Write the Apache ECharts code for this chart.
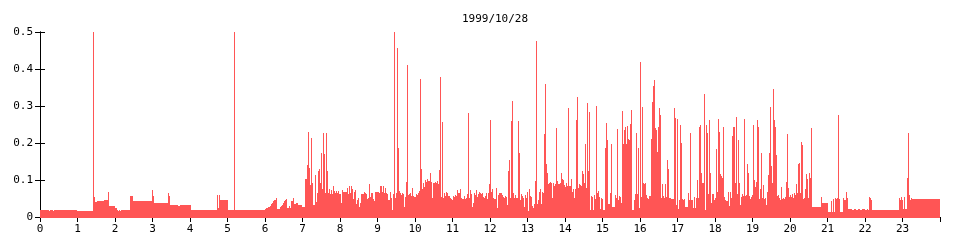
<!DOCTYPE html>
<html><head><meta charset="utf-8">
<script src="https://cdn.jsdelivr.net/npm/echarts@6/dist/echarts.min.js"></script>
<style>html,body{margin:0;padding:0;background:#fff}#c{width:960px;height:240px}</style>
</head><body><div id="c"></div>
<script>
// Chart title
const chartTitle = '1999/10/28';
// Samples are taken every 96 s -> 37.5 samples per hour.
const samplesPerHour = 37.5;
const hourLabels = ['0','1','2','3','4','5','6','7','8','9','10','11','12','13','14','15','16','17','18','19','20','21','22','23'];
const yTickLabels = ['0','0.1','0.2','0.3','0.4','0.5'];

// [sample index, value] — value holds until the next listed sample
const night = [[0,.020],[9,.017],[10,.020],[13,.017],[14,.020],[25,.018],[26,.020],[30,.018],[31,.020],[37,.017],[53,.500],[54,.055],[55,.040],[57,.044],[64,.046],[68,.068],[69,.031],[71,.029],[75,.025],[77,.020],[78,.017],[79,.020],[80,.017],[81,.020],[90,.058],[93,.042],[112,.074],[113,.058],[114,.037],[117,.039],[122,.037],[124,.039],[128,.064],[129,.056],[130,.033],[138,.031],[140,.033],[151,.020],[177,.060],[178,.025],[179,.060],[180,.047],[188,.020],[194,.500],[195,.020],[225,.022],[226,.024],[228,.028],[230,.031],[231,.034],[232,.037],[233,.042],[234,.045],[235,.047],[236,.051],[237,.022],[240,.026],[241,.029],[242,.033],[243,.038],[244,.043],[245,.046],[246,.050],[247,.025],[249,.030],[250,.025],[251,.043],[253,.052],[254,.034],[256,.039],[258,.032],[262,.028]];

const morning = [[265,.104],[267,.140],[268,.230],[269,.133],[270,.086],[271,.214],[272,.091],[273,.032],[275,.113],[276,.041],[277,.066],[278,.123],[279,.131],[280,.091],[281,.174],[282,.077],[283,.228],[284,.169],[285,.066],[286,.228],[287,.124],[288,.066],[289,.077],[290,.061],[291,.073],[292,.061],[293,.084],[294,.070],[295,.064],[296,.070],[297,.064],[298,.070],[299,.063],[301,.037],[302,.074],[303,.068],[307,.079],[308,.063],[309,.084],[310,.066],[311,.084],[312,.075],[313,.050],[314,.068],[315,.072],[316,.034],[317,.046],[318,.052],[319,.028],[320,.037],[321,.063],[322,.061],[324,.068],[325,.064],[326,.061],[327,.050],[328,.052],[329,.090],[330,.055],[331,.066],[332,.064],[333,.050],[334,.043],[335,.068],[339,.066],
[340,.084],[342,.068],[343,.084],[344,.064],[345,.079],[346,.064],[347,.061],[348,.045],[350,.068],[351,.052],[352,.018],[353,.061],[354,.500],[355,.052],[356,.064],[357,.458],[358,.187],[359,.070],[360,.066],[361,.059],[362,.064],[363,.061],[364,.028],[365,.055],[366,.095],[367,.410],[368,.059],[369,.061],[370,.066],[371,.057],[372,.079],[373,.057],[374,.055],[376,.061],[377,.059],[378,.064],[379,.070],[380,.374],[381,.131],[382,.075],[383,.093],[384,.082],[385,.100],[386,.095],[387,.104],[388,.097],[390,.120],[391,.095],[392,.052],[393,.091],[395,.095],[396,.091],[397,.097],[398,.088],[399,.127]];

const midday = [[400,.379],[401,.054],[402,.258],[403,.052],[404,.064],[405,.057],[406,.068],[407,.064],[408,.057],[410,.052],[411,.048],[412,.045],[413,.057],[414,.055],[415,.059],[416,.057],[417,.072],[418,.066],[419,.064],[420,.077],[421,.052],[422,.048],[424,.057],[425,.048],[426,.052],[427,.061],[428,.282],[429,.052],[430,.073],[431,.061],[432,.028],[433,.039],[434,.066],[435,.059],[436,.072],[437,.055],[438,.063],[439,.068],[440,.064],[441,.061],[442,.066],[443,.055],[444,.052],[445,.057],[446,.064],[447,.050],[448,.066],[449,.088],[450,.261],[451,.068],[452,.075],[453,.052],[454,.050],[455,.048],[456,.079],[457,.025],[458,.059],[459,.064],
[460,.064],[462,.059],[463,.055],[464,.052],[465,.057],[466,.054],[467,.032],[468,.124],[469,.154],[470,.052],[471,.259],[472,.314],[473,.066],[474,.052],[475,.059],[476,.052],[478,.259],[479,.174],[480,.046],[481,.061],[482,.057],[483,.052],[484,.028],[485,.059],[486,.052],[487,.068],[488,.016],[489,.077],[490,.057],[491,.054],[492,.030],[493,.023],[494,.034],[495,.097],[496,.477],[497,.034],[498,.046],[499,.068],[500,.077],[501,.034],[502,.068],[503,.066],[504,.225],[505,.360],[506,.142],[507,.118],[508,.088],[509,.091],[510,.095],[511,.093],[512,.052],[513,.091],[514,.084],[515,.088],[516,.241],[517,.097],[518,.088],[520,.093],[521,.118],[522,.104],[523,.099],[524,.086],[525,.082],[526,.093],[527,.084],[528,.294],[529,.084],[531,.102],[532,.068],[533,.077],[534,.052],[535,.075],[536,.262],[537,.324],[538,.079],[539,.088],[540,.086],[541,.084],[542,.123],[543,.115],[544,.093],[545,.198],[546,.079],[547,.309],[548,.124],[549,.285],[550,.019],[551,.057],[552,.055],[553,.018],[554,.059],[555,.048],[556,.300],[557,.064],[558,.070],[559,.055],[560,.021],[561,.052],[562,.050],[563,.018],[565,.187],[566,.255],[567,.208],[568,.036],[569,.034],[570,.066],[571,.198],[572,.028],[575,.059],[576,.052],[577,.239],[578,.046],[579,.057]];

const afternoon = [[580,.055],[581,.039],[582,.286],[583,.198],[584,.235],[585,.244],[586,.196],[587,.246],[588,.212],[589,.208],[590,.252],[591,.290],[592,.018],[594,.045],[595,.061],[596,.228],[597,.063],[598,.187],[599,.025],[600,.420],[601,.055],[602,.298],[603,.093],[604,.088],[605,.091],[606,.059],[607,.052],[608,.048],[609,.057],[611,.212],[612,.312],[613,.354],[614,.369],[615,.241],[616,.235],[617,.177],[618,.244],[619,.295],[620,.276],[621,.052],[622,.088],[623,.057],[624,.052],[625,.088],[626,.054],[627,.153],[628,.131],[629,.052],[631,.050],[634,.295],[635,.267],[636,.032],[637,.264],[638,.021],[639,.046],[640,.250],[641,.200],[642,.050],[643,.045],[644,.050],[645,.028],[648,.064],[649,.046],[650,.228],[651,.045],[653,.023],[654,.055],[655,.023],[656,.052],[657,.100],[658,.052],[659,.244],[660,.250],[661,.118],[662,.091],[663,.093],[664,.332],[665,.018],[666,.250],[667,.228],[668,.061],[669,.261],[670,.118],[671,.039],[672,.061],[674,.046],[675,.052],[676,.183],[677,.068],[678,.264],[679,.231],[680,.115],[681,.111],[682,.106],[683,.243],[684,.055],[685,.045],[686,.043],[688,.068],[689,.030],[690,.068],[691,.052],[692,.219],[693,.244],[695,.093],[696,.271],[697,.061],[698,.208],[699,.093],
[700,.032],[701,.055],[702,.063],[703,.057],[704,.264],[705,.057],[706,.059],[707,.142],[708,.118],[709,.057],[710,.048],[711,.054],[712,.059],[713,.248],[714,.099],[715,.082],[716,.095],[717,.261],[718,.244],[719,.050],[720,.075],[721,.174],[722,.052],[723,.086],[724,.050],[725,.052],[726,.032],[727,.068],[728,.113],[729,.172],[730,.297],[731,.138],[732,.091],[733,.345],[734,.261],[735,.244],[736,.167],[737,.057],[738,.059],[739,.052],[740,.046],[741,.082],[742,.048],[743,.052],[744,.050],[745,.054],[746,.095],[747,.223],[748,.079],[749,.054],[750,.059],[751,.055],[752,.061],[753,.052],[754,.064],[755,.059],[756,.088],[757,.066],[758,.142],[759,.145],[760,.066],[761,.204],[762,.194],[763,.050],[764,.052],[765,.075],[766,.115],[767,.104],[768,.052],[769,.118],[770,.106],[771,.240]];

const evening = [[772,.028],[781,.055],[782,.039],[788,.014],[791,.043],[792,.014],[793,.048],[794,.014],[795,.052],[796,.050],[797,.052],[798,.275],[799,.050],[800,.014],[803,.052],[804,.046],[806,.068],[807,.052],[808,.021],[812,.019],[814,.021],[816,.019],[818,.021],[820,.018],[822,.021],[825,.018],[827,.021],[828,.018],[829,.055],[830,.052],[831,.046],[832,.018],[859,.052],[860,.045],[861,.055],[862,.046],[863,.021],[864,.055],[865,.021],[867,.106],[868,.228],[869,.059],[870,.046],[871,.052],[872,.050],[900,.050]];

// Each value holds from its sample until the next listed sample: [startHour, endHour, value]
const raw = [].concat(night, morning, midday, afternoon, evening);
const steps = [];
for (let i = 0; i + 1 < raw.length; i++) {
  steps.push([raw[i][0] / samplesPerHour, raw[i + 1][0] / samplesPerHour, raw[i][1]]);
}

const font = 'DejaVu Sans Mono';
const black = '#000';
const chart = echarts.init(document.getElementById('c'), null, {renderer: 'canvas'});
chart.setOption({
  animation: false,
  backgroundColor: '#fff',
  title: {
    text: chartTitle, left: 490, top: 9, textAlign: 'center',
    textStyle: {fontFamily: font, fontSize: 11, fontWeight: 'normal', color: black}
  },
  grid: {left: 40, top: 32, width: 900, height: 185},
  xAxis: [
    {type: 'value', min: 0, max: 24, interval: 1, position: 'bottom',
     axisLine: {show: false}, axisTick: {show: false}, splitLine: {show: false},
     axisLabel: {margin: 7, color: black, fontFamily: font, fontSize: 11,
       formatter: v => hourLabels[Math.round(v)] ?? ''}},
    {type: 'value', min: 0, max: 24, interval: 1, position: 'top',
     axisLine: {show: true, lineStyle: {color: black, width: 1}},
     axisTick: {show: true, inside: true, length: 5, lineStyle: {color: black}},
     axisLabel: {show: false}, splitLine: {show: false}}
  ],
  yAxis: [
    {type: 'value', min: 0, max: 0.5, interval: 0.1, position: 'left',
     axisLine: {show: true, lineStyle: {color: black, width: 1}},
     axisTick: {show: true, inside: true, length: 5, lineStyle: {color: black}},
     splitLine: {show: false},
     axisLabel: {margin: 7, color: black, fontFamily: font, fontSize: 11,
       formatter: v => yTickLabels[Math.round(v * 10)]}},
    {type: 'value', min: 0, max: 0.5, interval: 0.1, position: 'right',
     axisLine: {show: true, lineStyle: {color: black, width: 1}},
     axisTick: {show: true, inside: true, length: 5, lineStyle: {color: black}},
     axisLabel: {show: false}, splitLine: {show: false}}
  ],
  series: [{
    type: 'custom',
    data: steps,
    encode: {x: [0, 1], y: 2},
    silent: true,
    z: 1,
    renderItem: (params, api) => {
      const top = api.coord([api.value(0), api.value(2)]);
      const bot = api.coord([api.value(1), 0]);
      const x0 = Math.round(top[0]), x1 = Math.round(bot[0]);
      const y0 = Math.round(top[1]), y1 = Math.round(bot[1]) + 1;
      return {
        type: 'rect',
        shape: {x: x0, y: y0, width: x1 - x0, height: y1 - y0},
        style: {fill: '#ff5555', stroke: null}
      };
    }
  }]
});
</script></body></html>
